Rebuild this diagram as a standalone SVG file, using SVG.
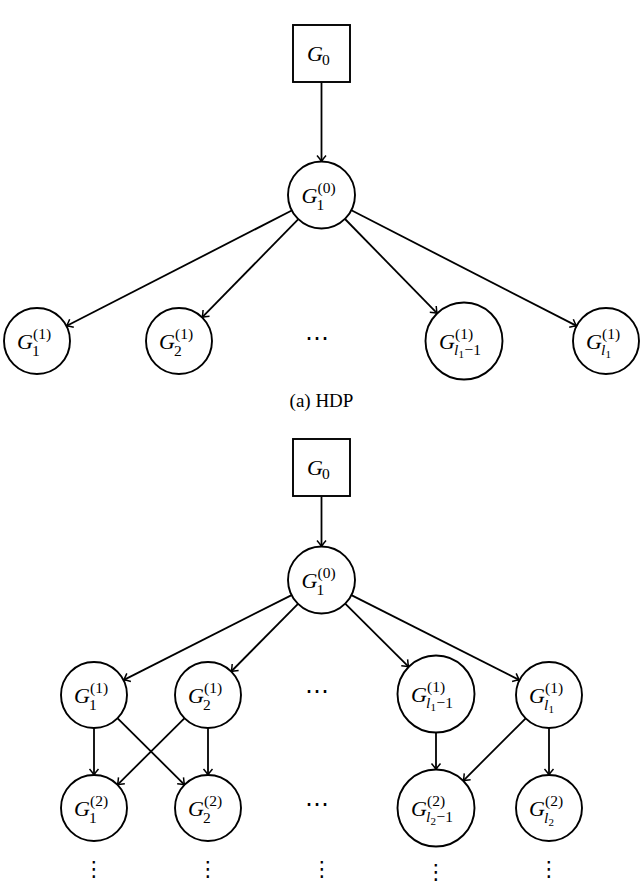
<svg xmlns="http://www.w3.org/2000/svg" width="640" height="886" viewBox="0 0 640 886">
<style>
.n{fill:#fff;stroke:#000;stroke-width:1.9}
.e{stroke:#000;stroke-width:1.8;fill:none;marker-end:url(#ah)}
.g{font-family:"Liberation Serif","DejaVu Serif",serif;font-style:italic;font-size:22px}
.s{font-family:"Liberation Serif","DejaVu Serif",serif;font-size:15.5px}
.i{font-style:italic}
.ss{font-size:11px}
.cap{font-family:"Liberation Serif","DejaVu Serif",serif;font-size:19px}
.dots{font-family:"DejaVu Sans",sans-serif;font-size:24px;text-anchor:middle}
.vd{font-family:"DejaVu Sans",sans-serif;font-size:21px;text-anchor:middle}
</style>
<defs>
<marker id="ah" markerUnits="userSpaceOnUse" markerWidth="14" markerHeight="14" viewBox="-7 -7 14 14" refX="0" refY="0" orient="auto">
<path d="M-6,-4.5 Q-2,-1 0,0 Q-2,1 -6,4.5" fill="none" stroke="#000" stroke-width="1.5"/>
</marker>
</defs>
<g id="connectors">
<line class="e" x1="321.5" y1="82.5" x2="321.5" y2="161.5"/>
<line class="e" x1="292.2" y1="210.3" x2="66.4" y2="326"/>
<line class="e" x1="298.6" y1="218.9" x2="202.1" y2="317.4"/>
<line class="e" x1="345" y1="219" x2="437.2" y2="313.4"/>
<line class="e" x1="351.4" y1="210.3" x2="576.6" y2="325.9"/>
<line class="e" x1="321.5" y1="496.5" x2="321.5" y2="546.5"/>
<line class="e" x1="291.6" y1="595.1" x2="123.5" y2="680.1"/>
<line class="e" x1="298" y1="603.8" x2="231.2" y2="671.5"/>
<line class="e" x1="345.2" y1="603.6" x2="408.7" y2="666.8"/>
<line class="e" x1="351.4" y1="595.1" x2="519.5" y2="680.1"/>
<line class="e" x1="94" y1="728" x2="94" y2="775"/>
<line class="e" x1="208" y1="728" x2="208" y2="775"/>
<line class="e" x1="117.4" y1="718.2" x2="184.6" y2="784.8"/>
<line class="e" x1="184.6" y1="718.2" x2="117.4" y2="784.8"/>
<line class="e" x1="436" y1="732.5" x2="436" y2="769.5"/>
<line class="e" x1="525.7" y1="718.3" x2="463.2" y2="780.8"/>
<line class="e" x1="549" y1="728" x2="549" y2="775"/>
</g>
<g id="a_G0"><rect class="n" x="293" y="25" width="57" height="57"/><text class="g" x="307" y="61">G</text><text class="s" x="322" y="65">0</text></g>
<g id="a_G1_0"><circle class="n" cx="321.5" cy="195" r="33.5"/><text class="g" x="301.5" y="203">G</text><text class="s" x="317.5" y="193">(0)</text><text class="s" x="316.5" y="210">1</text></g>
<g id="a_G1_1"><circle class="n" cx="37" cy="341" r="33"/><text class="g" x="17" y="349">G</text><text class="s" x="33" y="339">(1)</text><text class="s" x="32" y="356">1</text></g>
<g id="a_G2_1"><circle class="n" cx="179" cy="341" r="33"/><text class="g" x="159" y="349">G</text><text class="s" x="175" y="339">(1)</text><text class="s" x="174" y="356">2</text></g>
<g id="a_dots"><text class="dots" x="317" y="346">⋯</text></g>
<g id="a_Gl1m1_1"><circle class="n" cx="464" cy="341" r="38.5"/><text class="g" x="439" y="349">G</text><text class="s" x="455" y="339">(1)</text><text class="s" y="355"><tspan class="i" x="454">l</tspan><tspan class="ss" x="458.5" dy="3">1</tspan><tspan x="464.5" dy="-3">−1</tspan></text></g>
<g id="a_Gl1_1"><circle class="n" cx="606" cy="341" r="33"/><text class="g" x="586" y="349">G</text><text class="s" x="602" y="339">(1)</text><text class="s" y="355"><tspan class="i" x="601">l</tspan><tspan class="ss" x="605.5" dy="3">1</tspan></text></g>
<text id="caption" class="cap" x="321.5" y="407" text-anchor="middle">(a) HDP</text>
<g id="b_G0"><rect class="n" x="293" y="439" width="57" height="57"/><text class="g" x="307" y="475">G</text><text class="s" x="322" y="479">0</text></g>
<g id="b_G1_0"><circle class="n" cx="321.5" cy="580" r="33.5"/><text class="g" x="301.5" y="588">G</text><text class="s" x="317.5" y="578">(0)</text><text class="s" x="316.5" y="595">1</text></g>
<g id="b_G1_1"><circle class="n" cx="94" cy="695" r="33"/><text class="g" x="74" y="703">G</text><text class="s" x="90" y="693">(1)</text><text class="s" x="89" y="710">1</text></g>
<g id="b_G2_1"><circle class="n" cx="208" cy="695" r="33"/><text class="g" x="188" y="703">G</text><text class="s" x="204" y="693">(1)</text><text class="s" x="203" y="710">2</text></g>
<g id="b_dots1"><text class="dots" x="317" y="699">⋯</text></g>
<g id="b_Gl1m1_1"><circle class="n" cx="436" cy="694" r="38.5"/><text class="g" x="411" y="702">G</text><text class="s" x="427" y="692">(1)</text><text class="s" y="708"><tspan class="i" x="426">l</tspan><tspan class="ss" x="430.5" dy="3">1</tspan><tspan x="436.5" dy="-3">−1</tspan></text></g>
<g id="b_Gl1_1"><circle class="n" cx="549" cy="695" r="33"/><text class="g" x="529" y="703">G</text><text class="s" x="545" y="693">(1)</text><text class="s" y="710"><tspan class="i" x="544">l</tspan><tspan class="ss" x="548.5" dy="3">1</tspan></text></g>
<g id="b_G1_2"><circle class="n" cx="94" cy="808" r="33"/><text class="g" x="74" y="816">G</text><text class="s" x="90" y="806">(2)</text><text class="s" x="89" y="823">1</text></g>
<g id="b_G2_2"><circle class="n" cx="208" cy="808" r="33"/><text class="g" x="188" y="816">G</text><text class="s" x="204" y="806">(2)</text><text class="s" x="203" y="823">2</text></g>
<g id="b_dots2"><text class="dots" x="317" y="812">⋯</text></g>
<g id="b_Gl2m1_2"><circle class="n" cx="436" cy="808" r="38.5"/><text class="g" x="411" y="816">G</text><text class="s" x="427" y="806">(2)</text><text class="s" y="822"><tspan class="i" x="426">l</tspan><tspan class="ss" x="430.5" dy="3">2</tspan><tspan x="436.5" dy="-3">−1</tspan></text></g>
<g id="b_Gl2_2"><circle class="n" cx="549" cy="808" r="33"/><text class="g" x="529" y="816">G</text><text class="s" x="545" y="806">(2)</text><text class="s" y="823"><tspan class="i" x="544">l</tspan><tspan class="ss" x="548.5" dy="3">2</tspan></text></g>
<g id="vdots">
<text class="vd" x="94" y="876">⋮</text>
<text class="vd" x="208" y="876">⋮</text>
<text class="vd" x="322" y="876">⋮</text>
<text class="vd" x="436" y="879">⋮</text>
<text class="vd" x="549" y="876">⋮</text>
</g>
</svg>
